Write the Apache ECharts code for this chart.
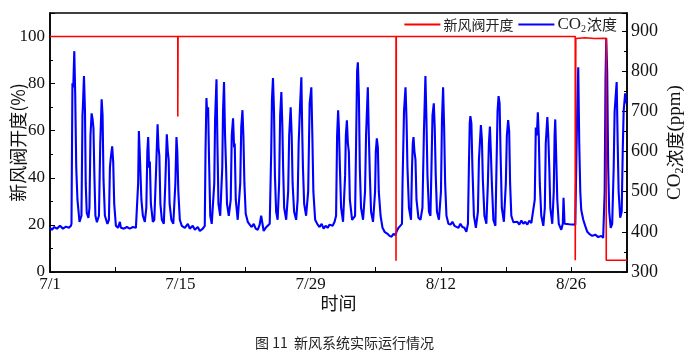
<!DOCTYPE html>
<html>
<head>
<meta charset="utf-8">
<script src="https://cdn.jsdelivr.net/npm/echarts@6/dist/echarts.min.js"></script>
<style>html,body{margin:0;padding:0;background:#fff;}#c{width:689px;height:355px;}</style>
</head>
<body>
<div id="c"></div>
<script>
// x values are days since 7/1 00:00
var xTickLabels = ['7/1', '7/15', '7/29', '8/12', '8/26'];

var valveTime  = [0, 13.73, 13.73, 13.76, 37.18, 37.18, 37.21, 56.44, 56.44, 56.50, 57.5, 58.5, 59.77, 59.77, 62];
var valveValue = [100, 100, 66, 100, 100, 4.8, 100, 100, 5, 99.2, 99.5, 99.2, 99.3, 5, 5];

var co2Time = [
0.00,0.21,0.43,0.75,1.07,1.39,1.72,2.04,2.25,2.31,2.41,2.50,2.61,2.71,2.82,2.95,3.17,3.38,3.49,3.54,3.65,3.76,3.84,3.95,4.13,
4.24,4.35,4.47,4.58,4.67,4.77,4.88,5.04,5.26,5.40,5.55,5.65,5.75,5.90,6.17,6.33,6.44,6.51,6.68,6.79,6.90,7.08,7.30,7.51,7.62,
7.94,8.26,8.58,8.91,9.23,9.39,9.47,9.55,9.64,9.71,9.82,9.98,10.19,10.35,10.46,10.55,10.65,10.73,10.84,11.05,11.21,11.41,11.56,11.66,11.75,
11.86,12.02,12.23,12.39,12.55,12.66,12.75,12.85,13.04,13.25,13.47,13.59,13.68,13.79,13.95,14.16,14.49,14.81,15.02,15.34,15.56,15.88,16.10,16.42,16.63,
16.71,16.81,16.90,16.99,17.09,17.22,17.38,17.54,17.65,17.74,17.89,17.99,18.10,18.29,18.51,18.59,18.70,18.81,18.92,19.02,19.21,19.42,19.53,19.67,19.78,
19.85,19.96,20.17,20.44,20.55,20.68,20.78,20.89,21.03,21.25,21.46,21.67,21.89,22.10,22.32,22.53,22.69,22.96,23.18,23.39,23.61,23.77,23.85,23.96,24.07,
24.17,24.30,24.46,24.62,24.73,24.86,24.97,25.05,25.16,25.38,25.59,25.70,25.86,25.97,26.07,26.23,26.45,26.61,26.72,26.88,27.01,27.11,27.18,27.31,27.52,
27.74,27.90,28.08,28.19,28.30,28.49,28.76,28.97,29.19,29.40,29.61,29.83,30.04,30.37,30.58,30.74,30.85,30.96,31.04,31.15,31.28,31.49,31.71,31.79,31.90,
32.01,32.11,32.22,32.46,32.78,32.89,33.00,33.08,33.19,33.29,33.42,33.64,33.85,33.96,34.15,34.26,34.37,34.50,34.71,34.93,35.01,35.12,35.23,35.33,35.52,
35.73,35.95,36.27,36.48,36.70,36.91,37.13,37.23,37.45,37.66,37.82,37.88,38.04,38.20,38.31,38.41,38.57,38.79,38.90,38.98,39.06,39.16,39.27,39.38,39.59,
39.81,40.02,40.18,40.34,40.45,40.56,40.72,40.88,40.99,41.10,41.24,41.34,41.45,41.58,41.79,42.01,42.12,42.24,42.35,42.46,42.60,42.81,43.03,43.24,43.46,
43.67,43.89,44.10,44.31,44.53,44.74,44.91,45.01,45.10,45.17,45.28,45.39,45.55,45.76,45.98,46.09,46.19,46.30,46.41,46.51,46.68,46.89,47.05,47.16,47.27,
47.37,47.48,47.64,47.86,47.96,48.09,48.20,48.31,48.41,48.55,48.77,48.98,49.09,49.23,49.34,49.44,49.57,49.79,50.00,50.22,50.43,50.65,50.86,51.07,51.29,
51.50,51.72,51.93,52.09,52.20,52.31,52.42,52.52,52.63,52.79,53.01,53.17,53.27,53.44,53.54,53.65,53.76,53.97,54.13,54.22,54.29,54.40,54.51,54.67,54.94,
55.10,55.18,55.29,55.37,55.80,56.44,56.55,56.65,56.76,56.87,56.98,57.08,57.30,57.51,57.73,57.94,58.26,58.59,58.91,59.23,59.44,59.60,59.69,59.77,59.87,
59.98,60.09,60.25,60.41,60.57,60.67,60.89,61.00,61.10,61.27,61.43,61.54,61.64,61.80,61.91
];
var co2Ppm = [
410,405,412,408,415,408,413,410,415,420,770,760,850,740,560,480,425,440,690,715,788,700,520,447,435,
460,640,695,680,658,540,440,424,440,620,730,690,530,440,420,430,560,579,613,575,470,415,410,425,410,
408,412,408,412,410,412,520,651,600,600,480,440,425,460,600,636,560,575,470,425,430,560,668,610,590,
470,430,420,520,643,600,580,470,430,420,520,636,600,500,430,415,410,420,408,415,405,412,402,408,415,
600,733,690,710,580,440,420,420,520,680,780,620,470,440,560,700,773,640,560,470,440,480,640,683,610,
620,480,430,520,660,703,640,520,445,425,418,412,420,408,405,418,440,402,410,412,420,600,730,783,700,
540,450,430,520,690,748,660,560,460,430,500,640,710,640,520,450,430,480,620,720,785,640,560,470,440,
500,720,760,640,500,430,418,412,420,408,415,410,418,415,425,440,640,703,660,560,460,425,540,640,678,
620,600,480,430,440,620,800,822,740,560,460,430,500,640,760,640,540,450,425,500,600,633,610,500,440,
410,400,395,390,388,395,392,400,410,408,420,520,700,760,680,560,460,430,560,620,636,600,580,480,435,
430,460,650,788,680,540,450,440,560,690,720,660,540,450,430,500,680,760,660,520,440,420,418,425,415,
418,410,420,412,410,400,420,560,670,688,670,560,440,410,450,580,620,666,630,530,440,420,520,620,662,
600,520,430,415,540,700,738,720,600,460,425,520,640,678,650,520,440,424,420,425,418,428,420,425,418,
428,422,425,480,660,640,698,640,520,440,415,460,620,686,640,560,460,420,500,640,680,580,480,420,405,
420,485,420,420,419,418,420,700,810,620,500,455,430,415,400,395,390,393,387,390,385,500,780,882,800,
560,450,410,420,560,700,773,620,500,435,450,600,700,745,720
];

function zip(a, b) { var r = []; for (var i = 0; i < a.length; i++) r.push([a[i], b[i]]); return r; }

var numFont = 'Liberation Serif';
var cjkFont = '"Noto Sans CJK SC", "Liberation Serif"';

var chart = echarts.init(document.getElementById('c'), null, { renderer: 'canvas' });
chart.setOption({
  animation: false,
  backgroundColor: '#fff',
  title: {
    text: '图 11  新风系统实际运行情况',
    left: 'center', top: 331,
    textStyle: { fontFamily: cjkFont, fontSize: 14, fontWeight: 'normal', color: '#222' }
  },
  legend: {
    right: 67, top: 11,
    itemWidth: 36, itemHeight: 2, itemGap: 5,
    icon: 'rect',
    data: ['新风阀开度', 'CO2浓度'],
    textStyle: {
      fontFamily: cjkFont, fontSize: 14, color: '#222', padding: [0, 0, 0, -2],
      rich: {
        a: { fontFamily: cjkFont, fontSize: 14, color: '#222' },
        c: { fontFamily: cjkFont, fontSize: 15, color: '#222' },
        n: { fontFamily: numFont, fontSize: 17, color: '#222' },
        s: { fontFamily: numFont, fontSize: 10, color: '#222', verticalAlign: 'bottom', padding: [9, 1, 0, 0] }
      }
    },
    formatter: function (name) {
      if (name === 'CO2浓度') return '{n|CO}{s|2}{c|浓度}';
      return '{a|' + name + '}';
    }
  },
  grid: { left: 50, right: 62, top: 13, bottom: 83, containLabel: false, outerBoundsMode: 'none',
          show: true, borderColor: '#000', borderWidth: 1.5, backgroundColor: 'transparent' },
  xAxis: {
    type: 'value', min: 0, max: 62, interval: 14,
    name: '时间', nameLocation: 'middle', nameGap: 22, nameMoveOverlap: false,
    nameTextStyle: { fontFamily: cjkFont, fontSize: 18, color: '#111' },
    axisLine: { lineStyle: { color: '#000', width: 1.5 } },
    axisTick: { inside: true, length: 5, lineStyle: { color: '#000' } },
    minorTick: { show: true, splitNumber: 2, length: 5, lineStyle: { color: '#000' } },
    splitLine: { show: false },
    axisLabel: {
      fontFamily: numFont, fontSize: 17, color: '#111', margin: 4, showMaxLabel: false,
      formatter: function (v) { var i = Math.round(v / 14); return xTickLabels[i] || ''; }
    }
  },
  yAxis: [{
    type: 'value', min: 0, max: 110, interval: 20,
    name: '新风阀开度(%)', nameLocation: 'middle', nameGap: 23, nameRotate: 90, nameMoveOverlap: false,
    nameTextStyle: { fontFamily: cjkFont, fontSize: 18, color: '#111' },
    axisLine: { show: true, lineStyle: { color: '#000', width: 1.5 } },
    axisTick: { inside: true, length: 5, lineStyle: { color: '#000' } },
    minorTick: { show: true, splitNumber: 2, length: 3, lineStyle: { color: '#000' } },
    splitLine: { show: false },
    axisLabel: { fontFamily: numFont, fontSize: 17, color: '#111', margin: 5, showMaxLabel: false }
  }, {
    type: 'value', min: 300, max: 945, interval: 100, position: 'right',
    name: '{n|CO}{s|2}{a|浓度}{n|(ppm)}', nameLocation: 'middle', nameGap: 37, nameRotate: 90, nameMoveOverlap: false,
    nameTextStyle: {
      fontFamily: numFont, fontSize: 19, color: '#111',
      rich: {
        n: { fontFamily: numFont, fontSize: 19, color: '#111' },
        a: { fontFamily: cjkFont, fontSize: 18, color: '#111' },
        s: { fontFamily: numFont, fontSize: 12, color: '#111', verticalAlign: 'bottom', padding: [10, 0, 0, 0] }
      }
    },
    axisLine: { show: true, lineStyle: { color: '#000', width: 1.5 } },
    axisTick: { inside: true, length: 5, lineStyle: { color: '#000' } },
    minorTick: { show: true, splitNumber: 2, length: 3, lineStyle: { color: '#000' } },
    splitLine: { show: false },
    axisLabel: { fontFamily: numFont, fontSize: 18, color: '#111', margin: 4, showMaxLabel: false }
  }],
  series: [{
    name: '新风阀开度', type: 'line', yAxisIndex: 0,
    data: zip(valveTime, valveValue),
    showSymbol: false, symbol: 'none',
    lineStyle: { color: '#ff0000', width: 1.6 },
    itemStyle: { color: '#ff0000' },
    z: 3
  }, {
    name: 'CO2浓度', type: 'line', yAxisIndex: 1,
    data: zip(co2Time, co2Ppm),
    showSymbol: false, symbol: 'none',
    lineStyle: { color: '#0000ff', width: 2.1 },
    itemStyle: { color: '#0000ff' },
    z: 2
  }]
});
</script>
</body>
</html>
